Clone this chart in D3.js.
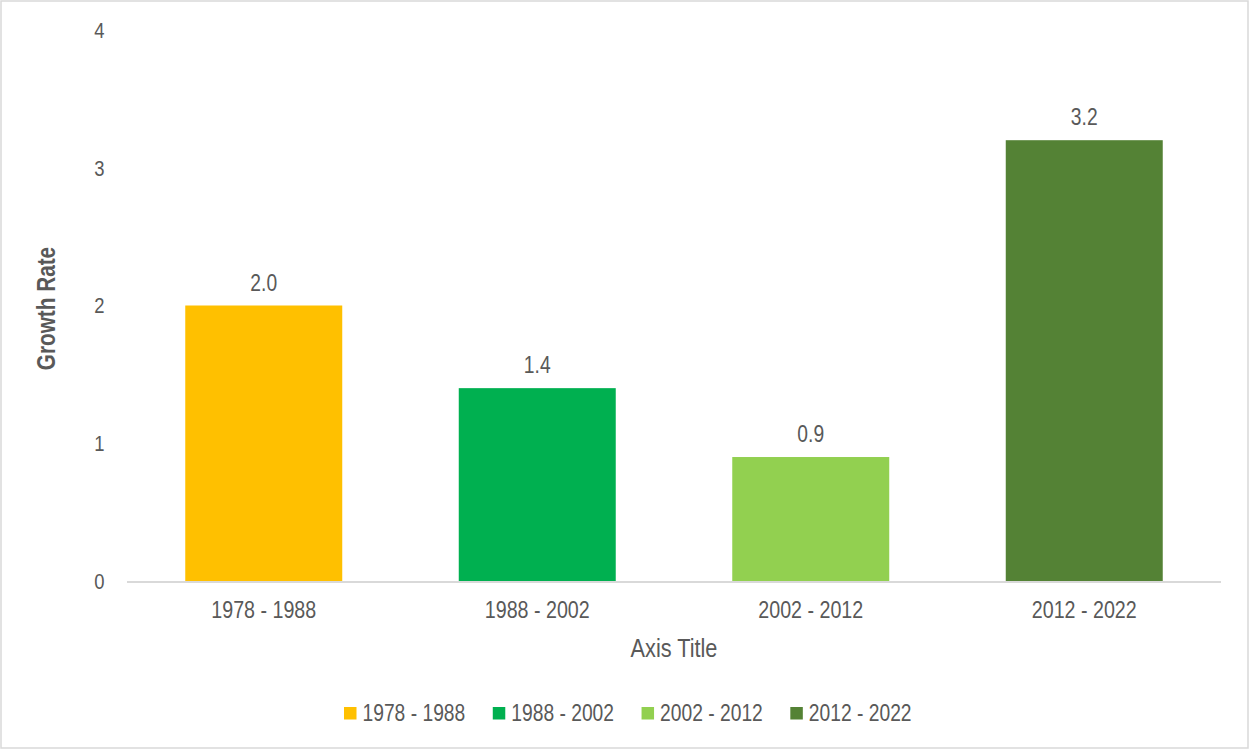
<!DOCTYPE html>
<html>
<head>
<meta charset="utf-8">
<script src="https://cdn.jsdelivr.net/npm/d3@7"></script>
<style>
  html, body { margin: 0; padding: 0; background: #fff; }
  svg text { font-family: "Liberation Sans Narrow", "Arial Narrow", "Liberation Sans", Arial, sans-serif; fill: #595959; }
</style>
</head>
<body>
<svg id="chart" width="1250" height="750"></svg>
<script>
// Growth rate by period
const categories = ["1978 - 1988", "1988 - 2002", "2002 - 2012", "2012 - 2022"];
const values = [2.0, 1.4, 0.9, 3.2];
const colors = ["#FFC000", "#00B050", "#92D050", "#548235"];
const yTicks = [0, 1, 2, 3, 4];
const yTitle = "Growth Rate";
const xTitle = "Axis Title";

// condensed lettering: regular sans squeezed horizontally
const SQUEEZE = 0.82;
const place = (px, py, extra = "") => `translate(${px},${py}) ${extra} scale(${SQUEEZE},1)`;

const svg = d3.select("#chart");

// chart frame
svg.append("rect")
  .attr("x", 1).attr("y", 1).attr("width", 1247).attr("height", 747)
  .attr("fill", "#fff").attr("stroke", "#d9d9d9").attr("stroke-width", 1.5);

const plot = { left: 127, right: 1221, top: 30, bottom: 581 };

const x = d3.scaleBand().domain(categories).range([plot.left, plot.right]).padding(0);
const y = d3.scaleLinear().domain([0, 4]).range([plot.bottom, plot.top]);
const barW = x.bandwidth() * 0.574;

// y tick labels (no axis line, no gridlines)
svg.append("g").selectAll("text").data(yTicks).join("text")
  .attr("transform", d => place(104.5, y(d)))
  .attr("dy", "0.35em")
  .attr("text-anchor", "end")
  .attr("font-size", 22.5)
  .text(d => d3.format("d")(d));

// bars
svg.append("g").selectAll("rect").data(values).join("rect")
  .attr("x", (d, i) => x(categories[i]) + (x.bandwidth() - barW) / 2)
  .attr("y", d => y(d))
  .attr("width", barW)
  .attr("height", d => y(0) - y(d))
  .attr("fill", (d, i) => colors[i]);

// value labels
svg.append("g").selectAll("text").data(values).join("text")
  .attr("transform", (d, i) => place(x(categories[i]) + x.bandwidth() / 2, y(d) - 15))
  .attr("text-anchor", "middle")
  .attr("font-size", 23.5)
  .text(d => d3.format(".1f")(d));

// baseline
svg.append("line")
  .attr("x1", plot.left).attr("x2", plot.right)
  .attr("y1", y(0) + 1).attr("y2", y(0) + 1)
  .attr("stroke", "#d9d9d9").attr("stroke-width", 2);

// category labels
svg.append("g").selectAll("text").data(categories).join("text")
  .attr("transform", d => place(x(d) + x.bandwidth() / 2, 610))
  .attr("dy", "0.35em")
  .attr("text-anchor", "middle")
  .attr("font-size", 24)
  .text(d => d);

// axis titles
svg.append("text")
  .attr("transform", place((plot.left + plot.right) / 2, 648))
  .attr("dy", "0.35em")
  .attr("text-anchor", "middle")
  .attr("font-size", 26.5)
  .text(xTitle);

svg.append("text")
  .attr("transform", place(46, (plot.top + plot.bottom) / 2 + 3, "rotate(-90)"))
  .attr("dy", "0.35em")
  .attr("text-anchor", "middle")
  .attr("font-size", 25.3)
  .attr("font-weight", "bold")
  .text(yTitle);

// legend
const legend = svg.append("g");
let lx = 344;
categories.forEach((c, i) => {
  legend.append("rect")
    .attr("x", lx).attr("y", 707).attr("width", 12.5).attr("height", 12.5)
    .attr("fill", colors[i]);
  const t = legend.append("text")
    .attr("transform", place(lx + 18.5, 713))
    .attr("dy", "0.35em")
    .attr("font-size", 23.5)
    .text(c);
  lx += 18.5 + t.node().getComputedTextLength() * SQUEEZE + 27.5;
});
</script>
</body>
</html>
